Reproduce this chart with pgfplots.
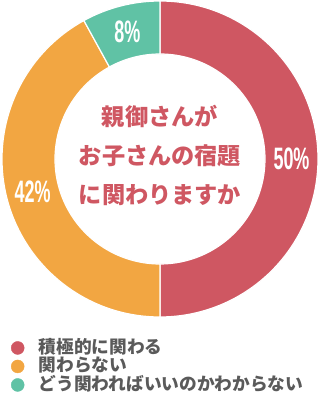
\documentclass[border=0pt]{standalone}
\usepackage{pgfplots}
\pgfplotsset{compat=1.18}
\usetikzlibrary{calc}
\usepackage{fontspec}
\newfontfamily\jp{Noto Sans CJK JP}
\newfontfamily\num{Liberation Sans}
\definecolor{cred}{HTML}{CF5762}
\definecolor{corange}{HTML}{F2A642}
\definecolor{cteal}{HTML}{60C2A5}
\definecolor{cgray}{HTML}{5A5A5A}
\begin{document}
\begin{tikzpicture}
\begin{axis}[
  scale only axis, width=319pt, height=400pt,
  xmin=0, xmax=319, ymin=0, ymax=400,
  hide axis, clip=false,
  legend style={at={(axis cs:11,61.5)}, anchor=north west, draw=none, fill=none,
    font=\jp\bfseries\fontsize{17.7}{17.7}\selectfont, text=cgray,
    cells={anchor=west}, row sep=0pt, inner sep=0pt,
    nodes={inner sep=0.5pt, text height=14pt, text depth=3.5pt},
    /tikz/every odd column/.append style={column sep=14pt}},
  legend image code/.code={\draw[#1] plot coordinates {(0.25cm,0pt)};},
]
\addlegendimage{only marks, mark=*, mark size=6.5pt, cred}
\addlegendentry{積極的に関わる}
\addlegendimage{only marks, mark=*, mark size=6.5pt, corange}
\addlegendentry{関わらない}
\addlegendimage{only marks, mark=*, mark size=6.5pt, cteal}
\addlegendentry{どう関わればいいのかわからない}
\pgfplotsextra{
  \gdef\cum{90}
  \foreach \v/\c in {50/cred,42/corange,8/cteal}{
    \pgfmathsetmacro\s{\cum}
    \pgfmathsetmacro\e{\cum-3.6*\v}
    \pgfmathsetmacro\m{(\s+\e)/2}
    \fill[\c, draw=white, line width=1.2pt] (axis cs:160,241) ++(\s:158pt)
      arc[start angle=\s, end angle=\e, radius=158pt] -- ++(\e:-53pt)
      arc[start angle=\e, end angle=\s, radius=105pt] -- cycle;
    \node[text=white] at ($(axis cs:160,241)+(\m:131.5pt)$)
      {\scalebox{0.58}[1]{\num\bfseries\fontsize{31}{31}\selectfont\v\%}};
    \xdef\cum{\e}
  }
}
\node[align=center, text=cred, font=\jp\bfseries\fontsize{23.2}{39}\selectfont]
  at (axis cs:160,245) {親御さんが\\お子さんの宿題\\に関わりますか};
\end{axis}
\pgfresetboundingbox
\path[use as bounding box] (current axis.south west) rectangle (current axis.north east);
\end{tikzpicture}
\end{document}
